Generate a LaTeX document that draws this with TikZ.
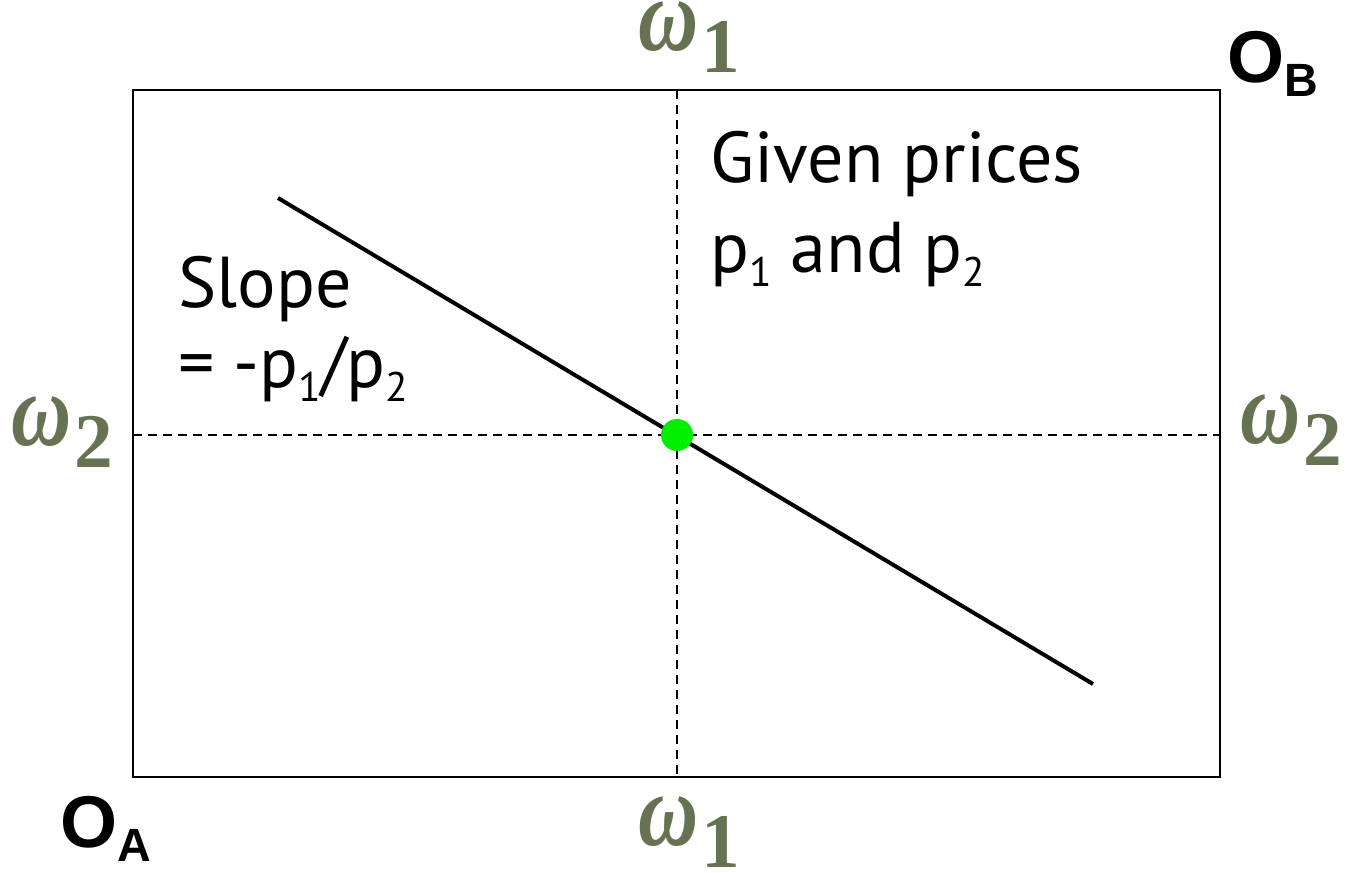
\documentclass[tikz,border=0pt]{standalone}
\usepackage{fontspec}
\usepackage{graphicx}
\setmainfont{PT Sans}
\newfontfamily\serifw{Liberation Serif}
\newfontfamily\boldsans{Liberation Sans}
\usetikzlibrary{positioning}
\definecolor{wgreen}{RGB}{102,115,82}
\definecolor{dotgreen}{RGB}{0,238,0}
\newcommand{\lowsub}[1]{\raisebox{-11pt}{\fontsize{31}{31}\selectfont #1}}
\newcommand{\wlab}[1]{\scalebox{0.8}[1]{\itshape\fontsize{78}{78}\selectfont ω}\hspace{2pt}\raisebox{-16.5pt}{#1}}
\newcommand{\olab}[1]{O\raisebox{-11pt}{\fontsize{35}{35}\selectfont #1}}

\begin{document}
\begin{tikzpicture}[x=0.75pt,y=-0.75pt,
frame/.style={line width=2.2pt},
guide/.style={line width=1.5pt,dash pattern=on 6.75pt off 4.5pt},
budget/.style={line width=3pt},
endw/.style={inner sep=0,anchor=base west,text=wgreen,font=\serifw\bfseries\fontsize{58}{58}\selectfont},
origin/.style={inner sep=0,anchor=base west,font=\boldsans\bfseries\fontsize{55}{55}\selectfont},
txt/.style={inner sep=0,anchor=base west,align=left}]
\useasboundingbox (0,0) rectangle (1346,872);
% Edgeworth box
\coordinate (oa) at (133,777);
\coordinate (ob) at (1220,90);
\coordinate (w) at (677,435);
\draw[guide] (w |- ob) -- (w |- oa);
\draw[guide] (oa |- w) -- (ob |- w);
\draw[frame] (oa) rectangle (ob);
% budget line through the endowment
\coordinate (bl1) at (278,198);
\coordinate (bl2) at (1093,684);
\draw[budget] (bl1) -- (bl2);
\node[circle,fill=dotgreen,minimum size=24pt,inner sep=0] (endow) at (w) {};
% labels
\node[endw] (w1top) at (638,50) {\wlab{1}};
\node[endw] (w1bot) at (638,845) {\wlab{1}};
\node[endw] (w2left) at (11,445) {\wlab{2}};
\node[endw] (w2right) at (1240,443) {\wlab{2}};
\node[origin] (oalab) at (60,847) {\olab{A}};
\node[origin] (oblab) at (1227,82) {\olab{B}};
\node[txt,font=\fontsize{54}{67}\selectfont] (prices) at (710,272) {Given prices\\p\lowsub{1} and p\lowsub{2}};
\node[txt,font=\fontsize{54}{60}\selectfont] (slope) at (178,387) {Slope\\= -p\lowsub{1}/p\lowsub{2}};
\end{tikzpicture}
\end{document}
